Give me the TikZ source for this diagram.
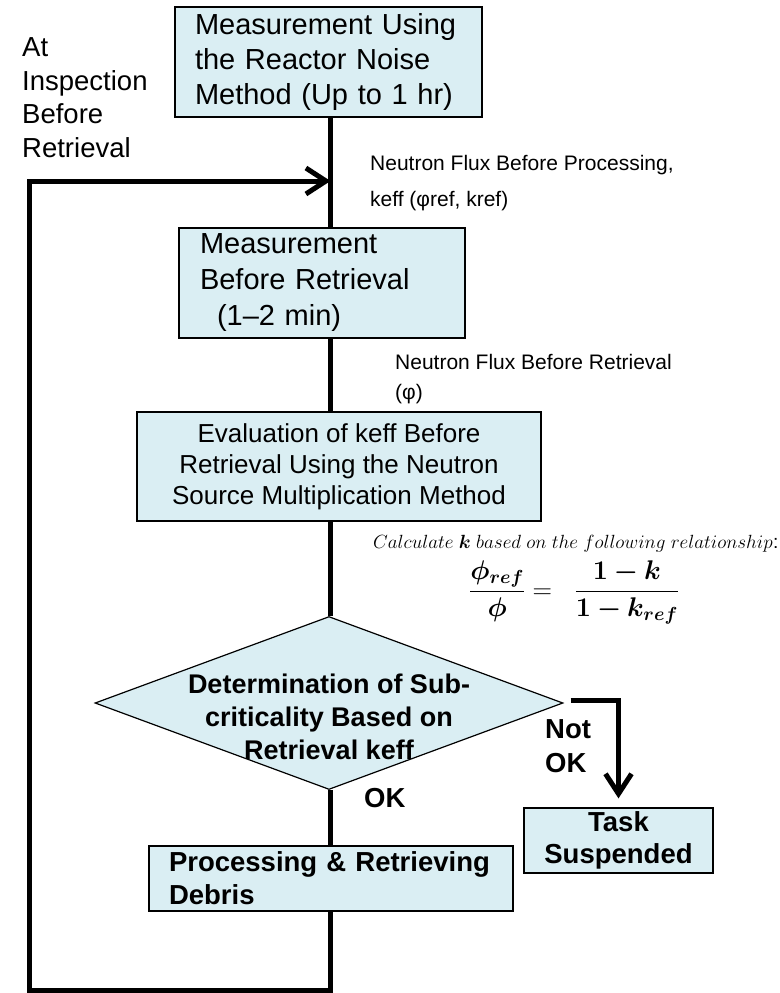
\RequirePackage{fix-cm}
\documentclass[tikz,border=0pt]{standalone}
\usepackage{amsmath,amssymb,bm}
\usepackage[no-math]{fontspec}
\setmainfont{Liberation Sans}
\usetikzlibrary{shapes.geometric,arrows.meta}
\definecolor{boxblue}{RGB}{218,238,243}

\begin{document}
\begin{tikzpicture}[x=1pt,y=-1pt,
  box/.style={rectangle,draw,fill=boxblue,line width=1.2pt,inner ysep=0pt},
  decision/.style={diamond,draw,fill=boxblue,line width=1.2pt,inner sep=0pt,minimum width=468pt,minimum height=173pt},
  flow/.style={line width=5pt},
  flowarrow/.style={flow,-{Straight Barb[length=20pt,width=26pt]}},
  note/.style={anchor=base west,align=left,inner sep=0pt},
  answer/.style={anchor=base west,align=left,inner sep=0pt,font=\bfseries\fontsize{27.5}{34}\selectfont}]
\useasboundingbox (0,0) rectangle (779,993);

\node [box,minimum width=307pt,minimum height=110pt,text width=267pt,inner xsep=20pt,align=left,font=\fontsize{29}{35}\selectfont] (noise) at (328.5,62) {Measurement Using\\the Reactor Noise\\Method (Up to 1 hr)};
\node [box,minimum width=286pt,minimum height=110pt,text width=244pt,inner xsep=21pt,align=left,font=\fontsize{29}{36}\selectfont] (premeas) at (322,283) {Measurement\\Before Retrieval\\\hspace*{17pt}(1–2 min)};
\node [box,minimum width=404pt,minimum height=109pt,align=center,font=\fontsize{26}{31}\selectfont] (keval) at (339,466.5) {Evaluation of keff Before\\Retrieval Using the Neutron\\Source Multiplication Method};
\node [decision,label={[align=center,yshift=-14pt,font=\bfseries\fontsize{27}{33}\selectfont]center:Determination of Sub-\\criticality Based on\\Retrieval keff}] (subcrit) at (329,703) {};
\node [box,minimum width=189pt,minimum height=65pt,align=center,font=\bfseries\fontsize{27.5}{32}\selectfont] (halt) at (618.5,840.5) {Task\\Suspended};
\node [box,minimum width=364pt,minimum height=65pt,text width=324pt,inner xsep=20pt,align=left,font=\bfseries\fontsize{27.5}{33}\selectfont] (debris) at (331,878.5) {Processing \& Retrieving\\Debris};

\node [note,font=\fontsize{27.5}{33.5}\selectfont] (when) at (22,157) {At\\Inspection\\Before\\Retrieval};
\node [note,font=\fontsize{21}{36}\selectfont] (fluxref) at (370,206) {Neutron Flux Before Processing,\\keff (φref, kref)};
\node [note,font=\fontsize{21}{30}\selectfont] (fluxpre) at (395,399) {Neutron Flux Before Retrieval\\(φ)};
\node [anchor=base west,inner sep=0pt,font=\fontsize{19.1}{22}\selectfont] (hint) at (373,548) {$Calculate\ \bm{k}\ based\ on\ the\ following\ relationship$:};
\node [anchor=base west,inner sep=0pt,font=\fontsize{27}{31}\selectfont] (relation) at (469,598) {$\displaystyle\frac{\bm{\phi_{ref}}}{\bm{\phi}}=\mskip10mu\frac{\bm{1-k}}{\bm{1-k_{ref}}}$};
\node [answer] (notok) at (545,772) {Not\\OK};
\node [answer] (ok) at (364,807) {OK};

\coordinate (spine) at (330.5,0);
\coordinate (loopsw) at (29.5,990);
\coordinate (loopnw) at (29.5,181);
\draw [flow] (noise.south -| spine) -- (premeas.north -| spine);
\draw [flow] (premeas.south -| spine) -- (keval.north -| spine);
\draw [flow] (keval.south -| spine) -- (subcrit.north -| spine);
\draw [flow] (subcrit.south -| spine) -- (debris.north -| spine);
\draw [flowarrow] (debris.south -| spine) |- (loopsw) -- (loopnw) -- (loopnw -| spine);
\draw [flowarrow] ([xshift=7pt,yshift=3pt]subcrit.east) -| ([yshift=9pt]halt.north);
\end{tikzpicture}
\end{document}
